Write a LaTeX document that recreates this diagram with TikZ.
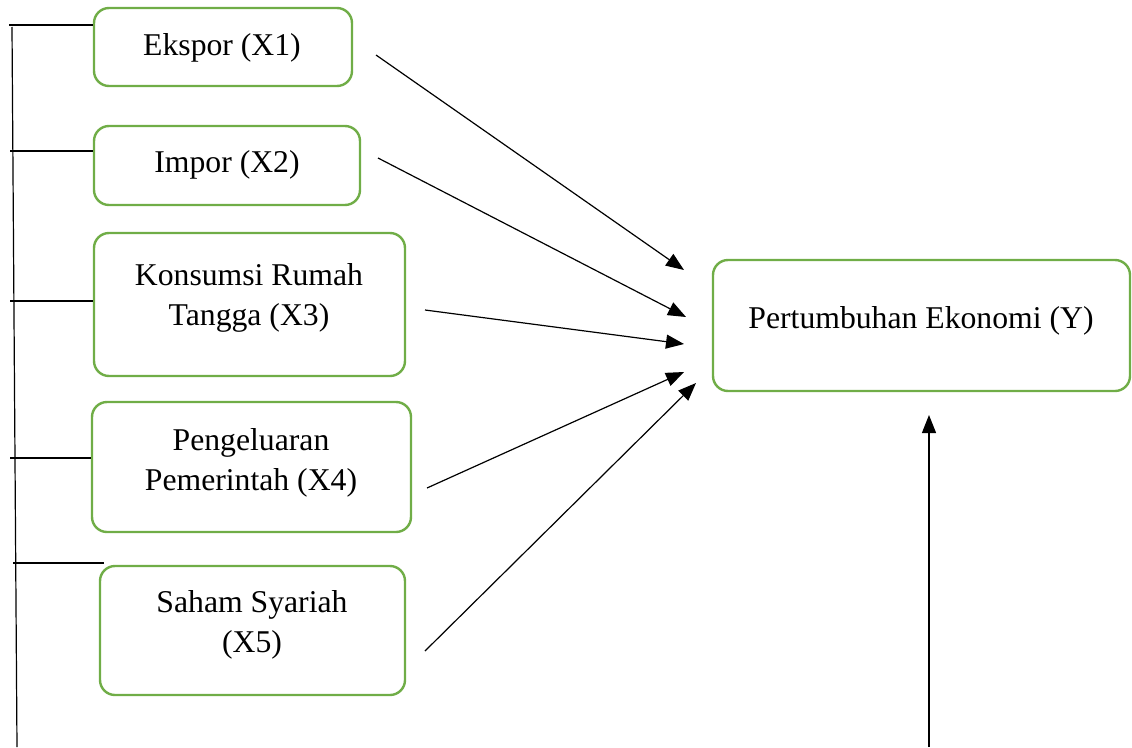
\documentclass[tikz,border=0pt]{standalone}
\usepackage{fontspec}
\setmainfont{Liberation Serif}
\usetikzlibrary{arrows.meta}
\definecolor{boxgreen}{HTML}{70AD47}
\begin{document}
\begin{tikzpicture}[x=1pt,y=-1pt,
  box/.style={draw=boxgreen, line width=2.4pt, rounded corners=15pt, inner sep=0pt},
  txt/.style={font=\fontsize{31.7}{40}\selectfont, align=center, inner sep=0pt},
  arr/.style={line width=1.2pt, -{Triangle[length=18pt,width=14pt]}},
  ln/.style={line width=1.2pt}]
\useasboundingbox (0,0) rectangle (1132,747);
% boxes
\node[box, minimum width=258pt, minimum height=78pt] (x1) at (223,47) {};
\node[box, minimum width=266pt, minimum height=79pt] (x2) at (227,165.5) {};
\node[box, minimum width=311pt, minimum height=143pt] (x3) at (249.5,304.5) {};
\node[box, minimum width=319pt, minimum height=130pt] (x4) at (251.5,467) {};
\node[box, minimum width=305pt, minimum height=129pt] (x5) at (252.5,630.5) {};
\node[box, minimum width=417pt, minimum height=131pt] (y) at (921.5,325.5) {};
% texts
\node[txt] (t1) at (222,47.5) {Ekspor (X1)};
\node[txt] (t2) at (227,164.5) {Impor (X2)};
\node[txt] (t3) at (249,298) {Konsumsi Rumah\\Tangga (X3)};
\node[txt] (t4) at (251,463) {Pengeluaran\\Pemerintah (X4)};
\node[txt] (t5) at (252,625) {Saham Syariah\\(X5)};
\node[txt] (ty) at (921,320.5) {Pertumbuhan Ekonomi (Y)};
% arrow coordinates
\coordinate (s1) at (376,55);  \coordinate (e1) at (684,270);
\coordinate (s2) at (378,158); \coordinate (e2) at (686,317);
\coordinate (s3) at (425,310); \coordinate (e3) at (684,344);
\coordinate (s4) at (427,488); \coordinate (e4) at (684,372);
\coordinate (s5) at (425,651); \coordinate (e5) at (696,383);
\coordinate (sb) at (929,747); \coordinate (eb) at (929,415);
\draw[arr] (s1) -- (e1);
\draw[arr] (s2) -- (e2);
\draw[arr] (s3) -- (e3);
\draw[arr] (s4) -- (e4);
\draw[arr] (s5) -- (e5);
\draw[arr] (sb) -- (eb);
% left bracket lines
\coordinate (vt) at (12,27); \coordinate (vb) at (17,747);
\draw[ln] (vt) -- (vb);
\coordinate (h1) at (9,25);   \draw[ln] (h1) -- (x1.west |- h1);
\coordinate (h2) at (10,151); \draw[ln] (h2) -- (x2.west |- h2);
\coordinate (h3) at (10,301); \draw[ln] (h3) -- (x3.west |- h3);
\coordinate (h4) at (10,458); \draw[ln] (h4) -- (x4.west |- h4);
\coordinate (h5) at (13,563); \coordinate (h5e) at (104,563); \draw[ln] (h5) -- (h5e);
\end{tikzpicture}
\end{document}
